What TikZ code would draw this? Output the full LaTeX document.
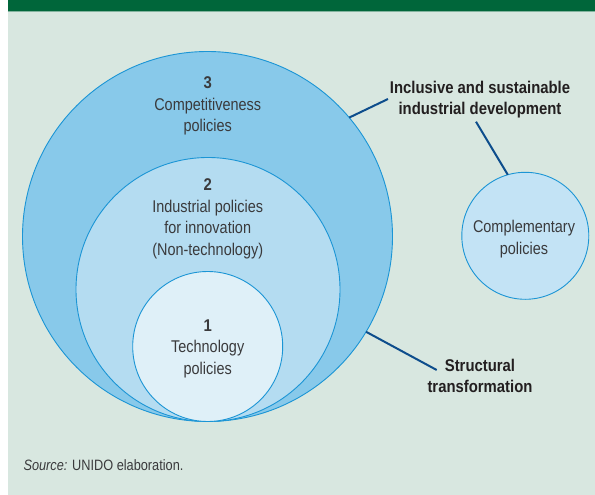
\documentclass[tikz,border=0pt]{standalone}
\usepackage{fontspec}
\setmainfont{Liberation Sans}[FakeStretch=0.85,BoldFeatures={FakeStretch=0.875}]
\definecolor{bgc}{HTML}{D8E7E0}
\definecolor{barc}{HTML}{00663A}
\definecolor{cthree}{HTML}{88C9EA}
\definecolor{ctwo}{HTML}{B4DCF1}
\definecolor{cone}{HTML}{DFF0F8}
\definecolor{ccomp}{HTML}{C3E3F5}
\definecolor{cedge}{HTML}{1B95D5}
\definecolor{linec}{HTML}{0D4D8C}
\definecolor{txtc}{HTML}{3A3A3C}
\definecolor{boldc}{HTML}{231F20}
\begin{document}
\begin{tikzpicture}[x=1pt,y=-1pt,
  pcircle/.style={circle,draw=cedge,line width=0.9pt,inner sep=0pt,outer sep=0pt},
  ctext/.style={align=center,text=txtc,inner sep=0pt,font=\fontsize{17}{21.5}\selectfont},
  btext/.style={align=center,text=boldc,inner sep=0pt,font=\bfseries\fontsize{17}{21}\selectfont},
  conn/.style={draw=linec,line width=2pt}]
\useasboundingbox (0,0) rectangle (595,495);
\fill[white] (0,0) rectangle (595,495);
\fill[bgc] (7.5,0) rectangle (595,495);
\fill[barc] (7.5,0) rectangle (595,11);
\draw[color=barc!40!bgc,line width=0.6pt] (7.5,11.3) -- (595,11.3);
% circles
\node[pcircle,fill=cthree,minimum size=370pt] (outer) at (207.5,236.5) {};
\node[pcircle,fill=ctwo,minimum size=264pt] (middle) at (208,289.5) {};
\node[pcircle,fill=cone,minimum size=150pt] (inner) at (207.7,346.5) {};
\node[pcircle,fill=ccomp,minimum size=127pt] (comp) at (525.3,235.8) {};
% circle texts
\node[ctext] (t3) at (207.7,106) {\textbf{3}\\Competitiveness\\policies};
\node[ctext] (t2) at (207.7,219) {\textbf{2}\\Industrial policies\\for innovation\\(Non-technology)};
\node[ctext] (t1) at (207.7,348.7) {\textbf{1}\\Technology\\policies};
\node[ctext] (tc) at (524,239) {Complementary\\policies};
% labels
\node[btext] (lab1) at (480,99.5) {Inclusive and sustainable\\industrial development};
\node[btext] (lab2) at (480,375.5) {Structural\\transformation};
% connector free ends
\coordinate (e1) at (388,99);
\coordinate (e2) at (476,121.7);
\coordinate (e3) at (436.7,370);
\draw[conn] (outer.40.5) -- (e1);
\draw[conn] (e2) -- (comp.106.4);
\draw[conn] (outer.-31.3) -- (e3);
% source
\node[anchor=west,inner sep=0pt,text=txtc,font=\fontsize{15}{17}\selectfont] (src) at (23.3,465.5) {\textit{Source:} UNIDO elaboration.};
\end{tikzpicture}
\end{document}
